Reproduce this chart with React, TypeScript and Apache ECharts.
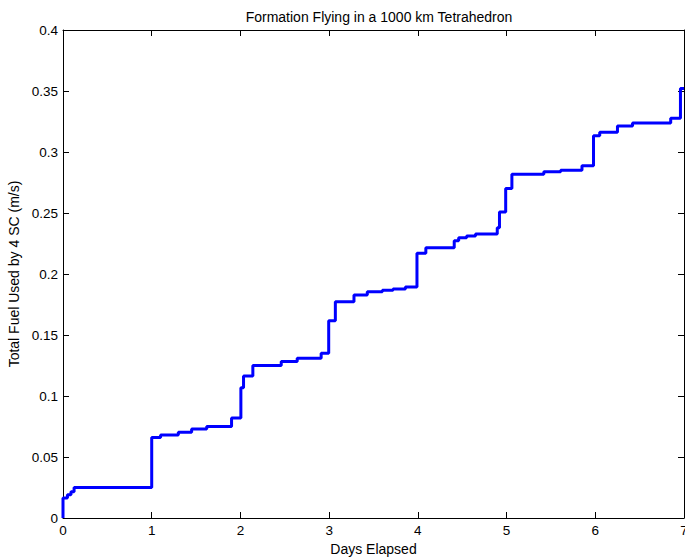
import React, { useEffect, useRef } from "react";
import * as echarts from "echarts";

const titleText = "Formation Flying in a 1000 km Tetrahedron";
const xName = "Days Elapsed";
const yName = "Total Fuel Used by 4 SC (m/s)";

const days = [
  0, 0, 0.05, 0.09, 0.125, 1.0, 1.1, 1.3, 1.45, 1.62, 1.9, 2.005, 2.035, 2.14,
  2.46, 2.64, 2.91, 2.995, 3.07, 3.28, 3.43, 3.6, 3.72, 3.86, 3.99, 4.09, 4.41,
  4.46, 4.55, 4.65, 4.895, 4.92, 4.99, 5.06, 5.42, 5.61, 5.85, 5.98, 6.05, 6.25,
  6.42, 6.85, 6.96, 7.0,
];
const fuel = [
  0, 0.0164, 0.019, 0.0216, 0.0249, 0.066, 0.068, 0.0702, 0.073, 0.0749, 0.082,
  0.1068, 0.1164, 0.1251, 0.1282, 0.1309, 0.135, 0.1617, 0.1773, 0.1828,
  0.1855, 0.1866, 0.1878, 0.1893, 0.217, 0.2216, 0.2273, 0.2298, 0.2311,
  0.2328, 0.238, 0.2508, 0.27, 0.2818, 0.2838, 0.285, 0.2888, 0.3134, 0.3161,
  0.3213, 0.3238, 0.3276, 0.352, 0.352,
];

const FONT = "'Liberation Sans', Arial, sans-serif";

export default function App() {
  const ref = useRef<HTMLDivElement>(null);
  useEffect(() => {
    if (!ref.current) return;
    const chart = echarts.init(ref.current, null, { renderer: "svg" });
    const axisLine = { show: true, onZero: false, lineStyle: { color: "#000", width: 1 } };
    const tick = { show: true, inside: true, length: 6, lineStyle: { color: "#000", width: 1 } };
    const label = { color: "#000", fontSize: 13.5, fontFamily: FONT };
    const nameStyle = { color: "#000", fontSize: 14, fontFamily: FONT };
    chart.setOption({
      animation: false,
      backgroundColor: "#fff",
      title: {
        text: titleText,
        left: 374,
        textAlign: "center",
        top: 5,
        textStyle: { fontSize: 14, fontWeight: "normal", color: "#000", fontFamily: FONT },
      },
      grid: {
        left: 63,
        right: 1,
        top: 30,
        bottom: 41,
        containLabel: false,
        outerBoundsMode: "none",
      },
      xAxis: [
        {
          type: "value",
          position: "bottom",
          min: 0,
          max: 7,
          interval: 1,
          axisLine,
          axisTick: tick,
          axisLabel: { ...label, margin: 5 },
          splitLine: { show: false },
          name: xName,
          nameLocation: "middle",
          nameGap: 23,
          nameTextStyle: nameStyle,
        },
        {
          type: "value",
          position: "top",
          min: 0,
          max: 7,
          interval: 1,
          axisLine,
          axisTick: tick,
          axisLabel: { show: false },
          splitLine: { show: false },
        },
      ],
      yAxis: [
        {
          type: "value",
          position: "left",
          min: 0,
          max: 0.4,
          interval: 0.05,
          axisLine,
          axisTick: tick,
          axisLabel: { ...label, margin: 5 },
          splitLine: { show: false },
          name: yName,
          nameLocation: "middle",
          nameGap: 38,
          nameTextStyle: nameStyle,
        },
        {
          type: "value",
          position: "right",
          min: 0,
          max: 0.4,
          interval: 0.05,
          axisLine,
          axisTick: tick,
          axisLabel: { show: false },
          splitLine: { show: false },
        },
      ],
      series: [
        {
          type: "line",
          step: "end",
          showSymbol: false,
          xAxisIndex: 0,
          yAxisIndex: 0,
          data: days.map((d, i) => [d, fuel[i]]),
          lineStyle: { color: "#0000ff", width: 3 },
          itemStyle: { color: "#0000ff" },
          clip: false,
        },
      ],
    });
    return () => chart.dispose();
  }, []);
  return <div ref={ref} style={{ width: 685, height: 559, position: "absolute", left: 0, top: 0 }} />;
}
